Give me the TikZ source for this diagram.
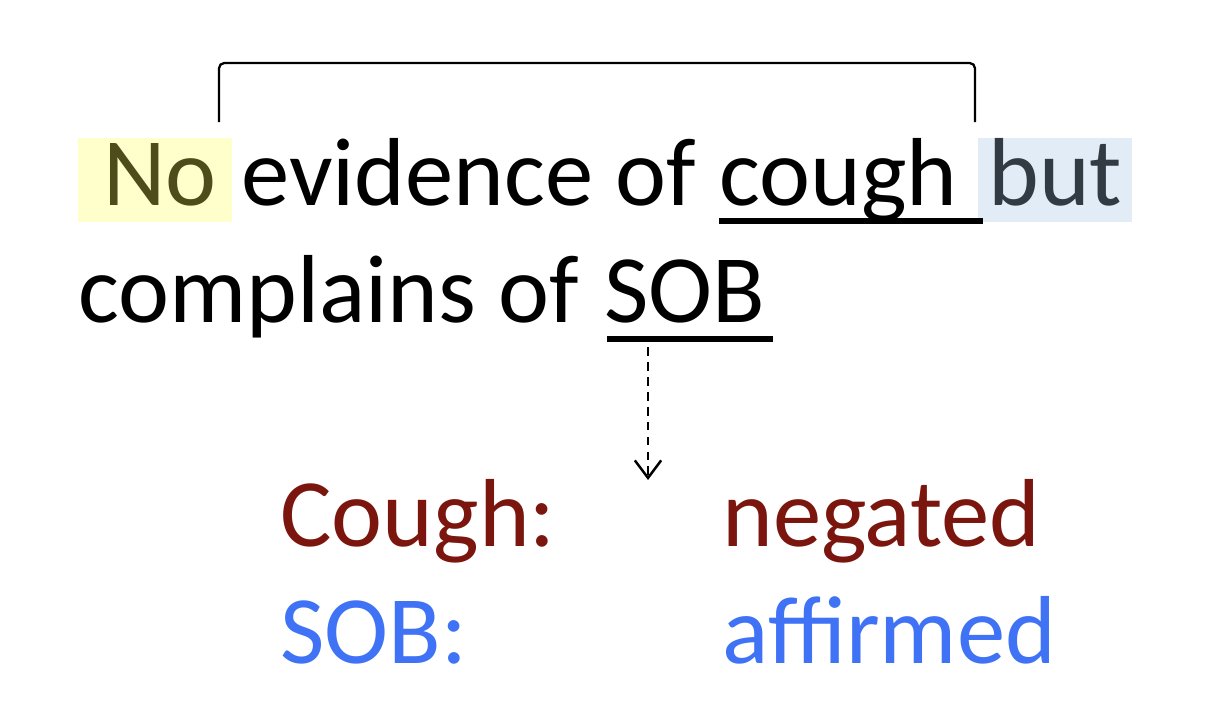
\documentclass[tikz,border=0pt]{standalone}
\usepackage{fontspec}
\setmainfont{Carlito}
\usetikzlibrary{positioning,arrows.meta}

\definecolor{hlyellow}{HTML}{FFFFCC}
\definecolor{hlblue}{HTML}{E1ECF6}
\definecolor{notext}{HTML}{4F4C1C}
\definecolor{buttext}{HTML}{323A43}
\definecolor{negred}{HTML}{7A160E}
\definecolor{affblue}{HTML}{3F72F5}

\begin{document}
\begin{tikzpicture}[
    x=0.02cm, y=-0.02cm,
    word/.style={inner sep=0pt, anchor=base west, font=\fontsize{55}{64}\selectfont},
    hl/.style={word, text height=1.34cm, text depth=0.34cm},
    uline/.style={line width=3pt},
    bracket/.style={line width=1.3pt, rounded corners=3pt},
    arrow/.style={-{Straight Barb[length=10pt, width=15pt]}, line width=1.4pt, dash pattern=on 5pt off 3.5pt}
]
\useasboundingbox (0,0) rectangle (1208,720);

% Sentence, first line
\node[hl, fill=hlyellow, text=notext, inner xsep=0.5cm, text width=2.08cm, align=left] (no) at (78,205) {No};
\node[word] (evid) at (241,205) {evidence of};
\node[word] (cough) at (719,205) {cough};
\node[hl, fill=hlblue, text=buttext, inner xsep=0.2cm] (but) at (978,205) {but};

% Sentence, second line
\node[word] (compl) at (78,322) {complains of};
\node[word] (sob) at (604,322) {SOB};

% Underlines
\draw[uline] (cough.base west) ++(0,16) -- ++(264,0);
\draw[uline] (sob.base west) ++(3,17) -- ++(166,0);

% Scope bracket
\coordinate (scopeL) at (219,122);
\coordinate (scopeR) at (975,122);
\draw[bracket] (scopeL) -- (219,63) -- (975,63) -- (scopeR);

% Arrow to result
\coordinate (from) at (648,347);
\coordinate (to) at (648,480);
\draw[arrow] (from) -- (to);

% Result
\node[word, text=negred] (cl) at (280,546) {Cough:};
\node[word, text=negred] (cv) at (722,546) {negated};
\node[word, text=affblue] (sl) at (280,663) {SOB:};
\node[word, text=affblue] (sv) at (722,663) {affirmed};

\end{tikzpicture}
\end{document}
